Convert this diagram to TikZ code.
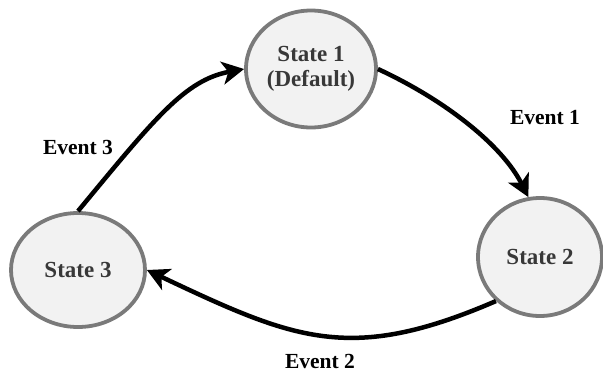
\documentclass[tikz,border=0pt]{standalone}
\usepackage{fontspec}
\setmainfont{Liberation Serif}
\usetikzlibrary{shapes.geometric,arrows.meta}
\definecolor{statefill}{HTML}{F2F2F2}
\definecolor{stateline}{HTML}{7A7A7A}
\definecolor{statetext}{HTML}{383838}
\tikzset{
  state/.style={ellipse, draw=stateline, line width=3.8pt, fill=statefill,
    inner sep=0pt, align=center, text=statetext,
    font=\fontsize{23}{25}\selectfont\bfseries},
  eventlabel/.style={font=\fontsize{21.5}{24}\selectfont\bfseries, inner sep=0pt},
  transition/.style={line width=4.5pt, black,
    -{Stealth[length=22pt, width=23pt, inset=6pt]}}
}
\begin{document}
\begin{tikzpicture}[x=1pt, y=-1pt]
  \useasboundingbox (0,0) rectangle (603,372);
  % states
  \node[state, minimum width=130pt, minimum height=117pt] (s1) at (311,69) {State 1\\(Default)};
  \node[state, minimum width=124pt, minimum height=118pt] (s2) at (540,257) {State 2};
  \node[state, minimum width=134pt, minimum height=114pt] (s3) at (78,270) {State 3};
  % transitions
  \draw[transition] (s1.east) .. controls (445,100) and (502,145) .. (s2.101);
  \draw[transition] (s2.225) .. controls (350,364) and (295,340) .. (s3.east);
  \draw[transition] (s3.north) .. controls (155,118) and (185,80) .. (s1.west);
  % event labels
  \node[eventlabel] (e1) at (545,118) {Event 1};
  \node[eventlabel] (e2) at (320,361) {Event 2};
  \node[eventlabel] (e3) at (78,147) {Event 3};
\end{tikzpicture}
\end{document}
